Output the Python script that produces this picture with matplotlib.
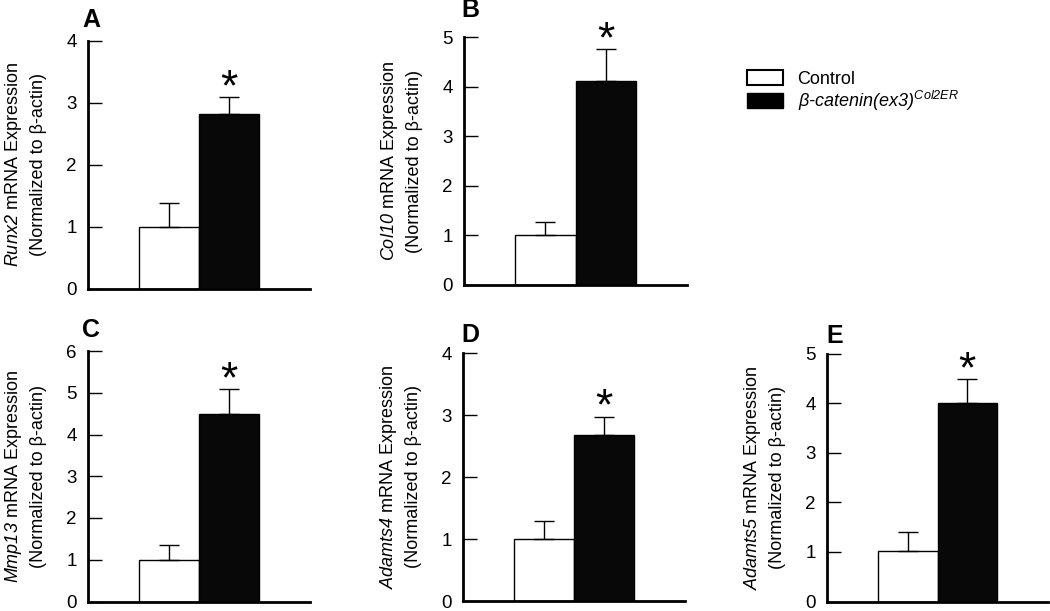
import numpy as np
import matplotlib.pyplot as plt
from matplotlib.patches import Patch

plt.rcParams['font.family'] = ['Liberation Sans', 'DejaVu Sans']
plt.rcParams['mathtext.fontset'] = 'custom'
# math parts are only used for italic names, so keep digits and brackets italic too
plt.rcParams['mathtext.rm'] = 'Liberation Sans:italic'
plt.rcParams['mathtext.it'] = 'Liberation Sans:italic'
plt.rcParams['mathtext.bf'] = 'Liberation Sans:bold'

# data
genes = ["Runx2", "Col10", "Mmp13", "Adamts4", "Adamts5"]
letters = ["A", "B", "C", "D", "E"]
control_mean = [1.0, 1.0, 1.0, 1.0, 1.02]
control_err = [0.38, 0.27, 0.36, 0.29, 0.38]
mutant_mean = [2.81, 4.12, 4.49, 2.67, 4.0]
mutant_err = [0.28, 0.64, 0.59, 0.30, 0.48]
ymax = [4, 5, 6, 4, 5]
groups = ["Control", r"$\mathit{\beta\text{-}catenin(ex3)}^{\mathit{Col2ER}}$"]

# layout, in pixels: axes (left, top, right, bottom) and panel letter (x, baseline)
W, H = 1050, 611
boxes = [(88, 40.7, 310, 288.7), (464, 37.3, 687, 285),
         (88, 351, 310, 601.5), (463, 353, 685, 601), (827, 353.5, 1048, 601.5)]
letter_xy = [(82, 27), (461, 17), (82, 337), (461, 342), (826, 343)]

fig = plt.figure(figsize=(W / 100, H / 100), dpi=100)

x = np.array([0.365, 0.635])
for i, gene in enumerate(genes):
    l, t, r, b = boxes[i]
    ax = fig.add_axes([l / W, 1 - b / H, (r - l) / W, (b - t) / H])
    means = [control_mean[i], mutant_mean[i]]
    errs = [control_err[i], mutant_err[i]]
    ax.bar(x, means, width=0.27, color=['white', '#080808'],
           edgecolor='black', linewidth=1.0)
    ax.errorbar(x, means, yerr=[[0, 0], errs], fmt='none', ecolor='black',
                elinewidth=1.0, capsize=7, capthick=1.0)
    ax.annotate('*', (x[1], means[1] + errs[1]), xytext=(0, -2),
                textcoords='offset points', ha='center', va='baseline',
                fontsize=32)
    ax.set_xlim(0, 1)
    ax.set_ylim(0, ymax[i])
    ax.set_yticks(range(ymax[i] + 1))
    ax.set_xticks([])
    for s in ['top', 'right']:
        ax.spines[s].set_visible(False)
    for s in ['left', 'bottom']:
        ax.spines[s].set_linewidth(2)
    ax.tick_params(axis='y', direction='in', length=10, width=1,
                   labelsize=13.5, pad=8)
    ax.set_ylabel(r"$\mathit{%s}$ mRNA Expression" % gene + "\n(Normalized to β-actin)",
                  fontsize=13, linespacing=1.45, labelpad=14)
    lx, ly = letter_xy[i]
    fig.text(lx / W, 1 - ly / H, letters[i], fontsize=18, fontweight='bold',
             ha='left', va='baseline')

handles = [Patch(facecolor='white', edgecolor='black', linewidth=1.5),
           Patch(facecolor='black', edgecolor='black')]
fig.legend(handles, groups, loc='upper left', bbox_to_anchor=(747 / W, 1 - 70 / H),
           frameon=False, fontsize=13, handlelength=2.0, handleheight=0.9,
           handletextpad=0.8, labelspacing=0.05, borderpad=0, borderaxespad=0)

fig.savefig('out.png', dpi=100)
